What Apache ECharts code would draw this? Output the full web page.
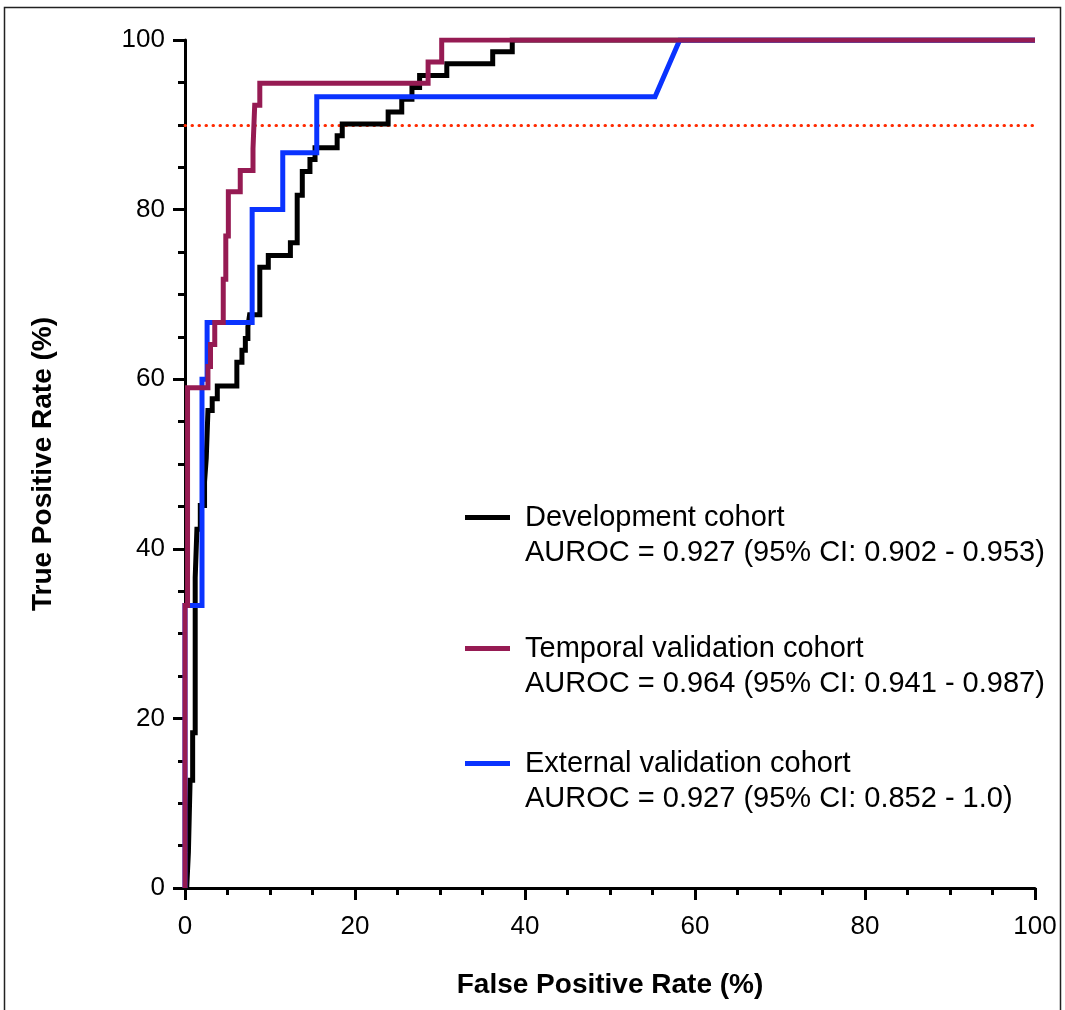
<!DOCTYPE html>
<html>
<head>
<meta charset="utf-8">
<title>ROC curves</title>
<script src="https://cdn.jsdelivr.net/npm/echarts@6/dist/echarts.min.js"></script>
<style>
  html, body { margin: 0; padding: 0; background: #fff; }
  #chart { width: 1065px; height: 1010px; }
</style>
</head>
<body>
<div id="chart"></div>
<script>
// ROC step curves: false positive rate (%) and true positive rate (%)
const devFpr = [0.2, 0.4, 0.6, 0.6, 0.9, 0.9, 1.2, 1.2, 1.4, 1.4, 1.8, 1.8, 2.3, 2.3, 2.5, 2.5, 2.7, 2.7, 3.2, 3.2, 3.8, 3.8, 6.1, 6.1, 6.7, 6.7, 7.1, 7.1, 7.4, 7.4, 7.6, 7.6, 8.8, 8.8, 9.8, 9.8, 12.4, 12.4, 13.2, 13.2, 13.8, 13.8, 14.7, 14.7, 15.3, 15.3, 17.9, 17.9, 18.5, 18.5, 23.9, 23.9, 25.5, 25.5, 26.7, 26.7, 27.6, 27.6, 30.8, 30.8, 36.2, 36.2, 38.5, 38.5, 100];
const devTpr = [0, 4.2, 4.2, 12.7, 12.7, 18.3, 18.3, 36.6, 36.6, 42.3, 42.3, 45.1, 45.1, 47.9, 47.9, 50.7, 50.7, 56.3, 56.3, 57.7, 57.7, 59.2, 59.2, 62.0, 62.0, 63.4, 63.4, 64.8, 64.8, 66.2, 66.2, 67.6, 67.6, 73.2, 73.2, 74.6, 74.6, 76.1, 76.1, 81.7, 81.7, 84.5, 84.5, 85.9, 85.9, 87.3, 87.3, 88.7, 88.7, 90.1, 90.1, 91.5, 91.5, 93.0, 93.0, 94.4, 94.4, 95.8, 95.8, 97.2, 97.2, 98.6, 98.6, 100, 100];

const tempFpr = [0, 0, 0.3, 0.3, 2.7, 2.7, 3.0, 3.0, 3.5, 3.5, 4.5, 4.5, 4.8, 4.8, 5.1, 5.1, 6.5, 6.5, 8.0, 8.0, 8.2, 8.2, 8.8, 8.8, 28.6, 28.6, 30.2, 30.2, 100];
const tempTpr = [0, 33.3, 33.3, 59.0, 59.0, 61.5, 61.5, 64.1, 64.1, 66.7, 66.7, 71.8, 71.8, 76.9, 76.9, 82.1, 82.1, 84.6, 84.6, 87.2, 87.2, 92.3, 92.3, 94.9, 94.9, 97.4, 97.4, 100, 100];

const extFpr = [0, 0, 2.0, 2.0, 2.6, 2.6, 7.9, 7.9, 11.5, 11.5, 15.5, 15.5, 55.3, 58.2, 100];
const extTpr = [0, 33.3, 33.3, 60.0, 60.0, 66.7, 66.7, 80.0, 80.0, 86.7, 86.7, 93.3, 93.3, 100, 100];

const seriesNames = ['Development cohort', 'Temporal validation cohort', 'External validation cohort'];
const aurocTexts = [
  'AUROC = 0.927 (95% CI: 0.902 - 0.953)',
  'AUROC = 0.964 (95% CI: 0.941 - 0.987)',
  'AUROC = 0.927 (95% CI: 0.852 - 1.0)'
];
const thresholdTpr = 90;
const axisTicks = [0, 20, 40, 60, 80, 100];

const zip = (xs, ys) => xs.map((x, i) => [x, ys[i]]);

const COLORS = { dev: '#000000', temp: '#961B53', ext: '#0A33FF' };
const LINE_W = 5;
const LABEL_FONT = '"Liberation Sans", Arial, sans-serif';
const TITLE_FONT = '"Liberation Sans Narrow", "Arial Narrow", "Liberation Sans", sans-serif';

function axisCommon(name) {
  return {
    type: 'value',
    min: axisTicks[0],
    max: axisTicks[axisTicks.length - 1],
    interval: axisTicks[1] - axisTicks[0],
    name: name,
    nameLocation: 'middle',
    nameTextStyle: { fontFamily: TITLE_FONT, fontWeight: 'bold', fontSize: 28, color: '#000' },
    axisLine: { show: true, onZero: false, lineStyle: { color: '#000', width: 3 } },
    axisTick: { show: true, length: 12, lineStyle: { color: '#000', width: 3 } },
    minorTick: { show: true, splitNumber: 4, length: 7, lineStyle: { color: '#000', width: 3 } },
    splitLine: { show: false },
    axisLabel: { fontFamily: LABEL_FONT, fontSize: 26, color: '#000' }
  };
}

const xAxis = axisCommon('False Positive Rate (%)');
xAxis.nameGap = 83;
xAxis.axisLabel.margin = 26;

const yAxis = axisCommon('True Positive Rate (%)');
yAxis.nameGap = 128;
yAxis.axisLabel.margin = 20;

const legendRich = {
  n: { fontFamily: LABEL_FONT, fontSize: 29, color: '#000', lineHeight: 35, padding: [0, 0, 0, 10] }
};

// one legend block per cohort: name line beside the key, AUROC line below
const legendTops = [463, 594, 709];
const legends = seriesNames.map((name, i) => ({
  orient: 'vertical',
  left: 460,
  top: legendTops[i],
  icon: 'rect',
  itemWidth: 45,
  itemHeight: LINE_W,
  data: [name],
  formatter: function (n) {
    return '{n| }\n{n|' + n + '}\n{n|' + aurocTexts[seriesNames.indexOf(n)] + '}';
  },
  textStyle: { rich: legendRich }
}));

const option = {
  animation: false,
  backgroundColor: '#fff',
  grid: { left: 185, right: 30, top: 40, bottom: 122, containLabel: false },
  xAxis: xAxis,
  yAxis: yAxis,
  legend: legends,
  graphic: [{
    type: 'rect',
    z: 100,
    silent: true,
    shape: { x: 4.5, y: 7.5, width: 1056, height: 1010 },
    style: { fill: 'none', stroke: '#222', lineWidth: 1.5 }
  }],
  series: [
    {
      name: seriesNames[0],
      type: 'line',
      z: 2,
      symbol: 'none',
      data: zip(devFpr, devTpr),
      lineStyle: { color: COLORS.dev, width: LINE_W, join: 'miter' },
      itemStyle: { color: COLORS.dev },
      markLine: {
        z: 1,
        silent: true,
        symbol: ['none', 'none'],
        label: { show: false },
        lineStyle: { color: '#FF2A00', width: 3, type: [0.5, 6.5], cap: 'round' },
        data: [{ yAxis: thresholdTpr }]
      }
    },
    {
      name: seriesNames[1],
      type: 'line',
      z: 4,
      symbol: 'none',
      data: zip(tempFpr, tempTpr),
      lineStyle: { color: COLORS.temp, width: LINE_W, join: 'miter' },
      itemStyle: { color: COLORS.temp }
    },
    {
      name: seriesNames[2],
      type: 'line',
      z: 3,
      symbol: 'none',
      data: zip(extFpr, extTpr),
      lineStyle: { color: COLORS.ext, width: LINE_W, join: 'miter' },
      itemStyle: { color: COLORS.ext }
    }
  ]
};

const chart = echarts.init(document.getElementById('chart'), null, { renderer: 'canvas' });
chart.setOption(option);
</script>
</body>
</html>
